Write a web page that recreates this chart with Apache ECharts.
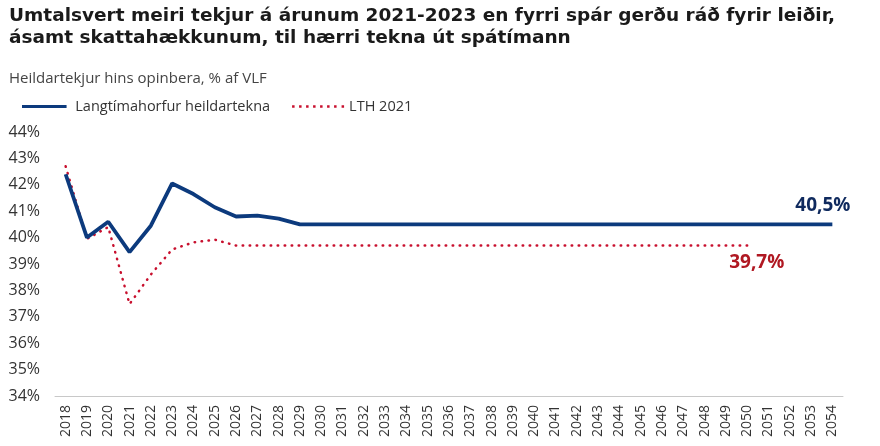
<!DOCTYPE html>
<html><head><meta charset="utf-8">
<script src="https://cdn.jsdelivr.net/npm/echarts@6/dist/echarts.min.js"></script>
<style>html,body{margin:0;padding:0;background:#fff}#c{width:880px;height:446px}</style>
</head><body><div id="c"></div>
<script>
const years = ["2018","2019","2020","2021","2022","2023","2024","2025","2026","2027","2028","2029","2030","2031","2032","2033","2034","2035","2036","2037","2038","2039","2040","2041","2042","2043","2044","2045","2046","2047","2048","2049","2050","2051","2052","2053","2054"];
const langtima = [42.4,40.0,40.6,39.45,40.45,42.05,41.65,41.15,40.8,40.83,40.72,40.5,40.5,40.5,40.5,40.5,40.5,40.5,40.5,40.5,40.5,40.5,40.5,40.5,40.5,40.5,40.5,40.5,40.5,40.5,40.5,40.5,40.5,40.5,40.5,40.5,40.5];
const lth2021 = [42.7,39.95,40.4,37.48,38.6,39.55,39.82,39.92,39.7,39.7,39.7,39.7,39.7,39.7,39.7,39.7,39.7,39.7,39.7,39.7,39.7,39.7,39.7,39.7,39.7,39.7,39.7,39.7,39.7,39.7,39.7,39.7,39.7];
const fmt = v => String(v).replace('.', ',') + '%';

const chart = echarts.init(document.getElementById('c'));
chart.setOption({
  animation:false,
  textStyle:{fontFamily:'Open Sans'},
  title:{
    text:'Umtalsvert meiri tekjur á árunum 2021-2023 en fyrri spár gerðu ráð fyrir leiðir,\násamt skattahækkunum, til hærri tekna út spátímann',
    left:4, top:0,
    textStyle:{fontSize:18.5,fontWeight:'bold',color:'#1a1a1a',lineHeight:22,fontFamily:'DejaVu Sans'},
    subtext:'Heildartekjur hins opinbera, % af VLF',
    subtextStyle:{fontSize:15,color:'#444',fontFamily:'Open Sans'},
    itemGap:22
  },
  legend:{
    left:17, top:94, itemWidth:52, itemHeight:3, itemGap:22,
    textStyle:{fontSize:14.5,color:'#333',fontFamily:'Open Sans'},
    data:[
      {name:'Langtímahorfur heildartekna',icon:'path://M0,0h52v3.5h-52z',itemStyle:{color:'#0c3a7d'}},
      {name:'LTH 2021',icon:'path://M0,0h2.5v2.5h-2.5zM7,0h2.5v2.5h-2.5zM14,0h2.5v2.5h-2.5zM21,0h2.5v2.5h-2.5zM28,0h2.5v2.5h-2.5zM35,0h2.5v2.5h-2.5zM42,0h2.5v2.5h-2.5zM49.5,0h2.5v2.5h-2.5z',itemStyle:{color:'#c8102e'}}
    ]
  },
  grid:{left:55,right:37,top:132,bottom:50},
  xAxis:{
    type:'category', data:years, boundaryGap:true,
    axisLine:{lineStyle:{color:'#c8c8c8',width:1}},
    axisTick:{show:false},
    axisLabel:{rotate:90,interval:0,fontSize:14,color:'#333',margin:9}
  },
  yAxis:{
    type:'value', min:34, max:44, interval:1,
    axisLine:{show:false}, axisTick:{show:false}, splitLine:{show:false},
    axisLabel:{formatter:v=>v+'%',fontSize:16,color:'#333',margin:15}
  },
  series:[
    {name:'Langtímahorfur heildartekna',type:'line',data:langtima,showSymbol:false,
     lineStyle:{color:'#0c3a7d',width:3.8},itemStyle:{color:'#0c3a7d'},z:3,
     endLabel:{show:true,formatter:p=>fmt(p.value),offset:[-45,-19],color:'#0f2a5e',fontSize:19,fontWeight:'bold',fontFamily:'Open Sans'}},
    {name:'LTH 2021',type:'line',data:lth2021,showSymbol:false,
     lineStyle:{color:'#c8102e',width:2.5,type:[0.5,6.5],cap:'round'},itemStyle:{color:'#c8102e'},z:2,
     endLabel:{show:true,formatter:p=>fmt(p.value),offset:[-26,17],color:'#b01822',fontSize:19,fontWeight:'bold',fontFamily:'Open Sans'}}
  ]
});
</script></body></html>
